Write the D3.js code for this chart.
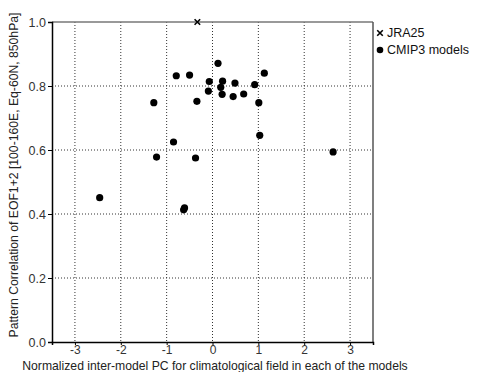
<!DOCTYPE html>
<html>
<head>
<meta charset="utf-8">
<script src="https://cdn.jsdelivr.net/npm/d3@7"></script>
<style>
  body { margin: 0; background: #fff; }
  svg { font-family: "Liberation Sans", Arial, sans-serif; }
</style>
</head>
<body>
<div id="chart"></div>
<script>
// model points: x = normalized PC, y = pattern correlation
var modelX = [0.12, -0.79, -0.50, 1.13, -0.07, 0.22, 0.49, 0.92, 0.18, -0.09, 0.21, 0.45,
              0.68, -1.28, -0.34, 1.01, 1.03, -0.85, -1.22, -0.37, -2.46, -0.61, -0.63, 2.63];
var modelY = [0.871, 0.832, 0.834, 0.840, 0.814, 0.815, 0.809, 0.804, 0.796, 0.784, 0.774, 0.767,
              0.775, 0.748, 0.752, 0.748, 0.646, 0.625, 0.578, 0.575, 0.451, 0.419, 0.413, 0.594];
var jraX = [-0.33];
var jraY = [1.0];
var xTicks = [-3, -2, -1, 0, 1, 2, 3];
var yTicks = [0, 0.2, 0.4, 0.6, 0.8, 1.0];
var legendLabels = ["JRA25", "CMIP3 models"];

var svg = d3.select("#chart").append("svg")
    .attr("width", 481)
    .attr("height", 372);

var margin = {top: 22, right: 108, bottom: 30, left: 52},
    width = 481 - margin.left - margin.right,
    height = 372 - margin.top - margin.bottom,
    g = svg.append("g").attr("transform", "translate(" + margin.left + "," + margin.top + ")");

var x = d3.scaleLinear().domain([-3.5, 3.5]).range([0, width]);
var y = d3.scaleLinear().domain([0, 1]).range([height, 0]);

// dotted grid
g.selectAll(".vgrid")
    .data(xTicks)
    .enter().append("line")
    .attr("x1", function (d) { return x(d); })
    .attr("x2", function (d) { return x(d); })
    .attr("y1", 0)
    .attr("y2", height)
    .attr("stroke", "#333")
    .attr("stroke-width", 1)
    .attr("stroke-dasharray", "1,2");

g.selectAll(".hgrid")
    .data(yTicks.filter(function (d) { return d > 0 && d < 1; }))
    .enter().append("line")
    .attr("x1", 0)
    .attr("x2", width)
    .attr("y1", function (d) { return y(d); })
    .attr("y2", function (d) { return y(d); })
    .attr("stroke", "#333")
    .attr("stroke-width", 1)
    .attr("stroke-dasharray", "1,2");

// top and right frame
g.append("line").attr("x1", 0).attr("x2", width).attr("y1", 0).attr("y2", 0)
    .attr("stroke", "#777").attr("stroke-width", 1.5);
g.append("line").attr("x1", width).attr("x2", width).attr("y1", 0).attr("y2", height)
    .attr("stroke", "#555").attr("stroke-width", 1.5);

// axes
var xAxis = g.append("g")
    .attr("transform", "translate(0," + height + ")")
    .call(d3.axisBottom(x).tickValues(xTicks).tickSize(3).tickPadding(0)
        .tickFormat(function (d) { return String(d); }));
var yAxis = g.append("g")
    .call(d3.axisLeft(y).tickValues(yTicks).tickSize(4).tickPadding(2).tickFormat(d3.format(".1f")));

[xAxis, yAxis].forEach(function (a) {
    a.select(".domain").attr("stroke", "#000").attr("stroke-width", 1.5);
    a.selectAll(".tick line").attr("stroke", "#000");
    a.selectAll(".tick text")
        .attr("fill", "#333")
        .style("font-size", "12.5px")
        .style("font-family", "Liberation Sans, Arial, sans-serif");
});
xAxis.selectAll(".tick text").style("font-size", "12px");

// model dots
g.selectAll(".dot")
    .data(modelX.map(function (d, i) { return [d, modelY[i]]; }))
    .enter().append("circle")
    .attr("class", "dot")
    .attr("cx", function (d) { return x(d[0]); })
    .attr("cy", function (d) { return y(d[1]); })
    .attr("r", 3.6)
    .attr("fill", "#000");

// JRA25 cross
var cross = d3.symbol().type(d3.symbolX).size(22);
g.selectAll(".jra")
    .data(jraX.map(function (d, i) { return [d, jraY[i]]; }))
    .enter().append("path")
    .attr("d", cross)
    .attr("transform", function (d) { return "translate(" + x(d[0]) + "," + y(d[1]) + ")"; })
    .attr("fill", "none")
    .attr("stroke", "#000")
    .attr("stroke-width", 1.6);

// legend
var legend = svg.selectAll(".legend")
    .data(legendLabels)
    .enter().append("g")
    .attr("class", "legend")
    .attr("transform", function (d, i) { return "translate(380," + (33 + i * 17) + ")"; });

legend.each(function (d, i) {
    var l = d3.select(this);
    if (i === 0) {
        l.append("path").attr("d", cross).attr("fill", "none")
            .attr("stroke", "#000").attr("stroke-width", 1.6);
    } else {
        l.append("circle").attr("r", 3.3).attr("fill", "#000");
    }
    l.append("text")
        .attr("x", 7)
        .attr("dy", "0.35em")
        .attr("fill", "#111")
        .style("font-size", "12.5px")
        .text(d);
});

// axis titles
svg.append("text")
    .attr("x", 215)
    .attr("y", 370)
    .attr("text-anchor", "middle")
    .attr("fill", "#222")
    .style("font-size", "12.2px")
    .text("Normalized inter-model PC for climatological field in each of the models");

svg.append("text")
    .attr("transform", "translate(18,175) rotate(-90)")
    .attr("text-anchor", "middle")
    .attr("fill", "#222")
    .style("font-size", "12.2px")
    .text("Pattern Correlation of EOF1+2 [100-160E, Eq-60N, 850hPa]");
</script>
</body>
</html>
